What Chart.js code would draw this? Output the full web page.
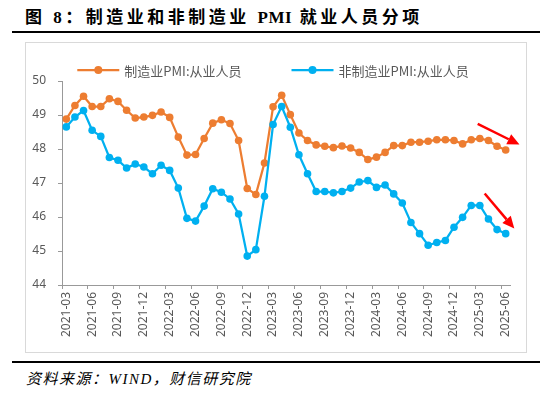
<!DOCTYPE html>
<html lang="zh-CN">
<head>
<meta charset="utf-8">
<title>图 8：制造业和非制造业 PMI 就业人员分项</title>
<script src="https://cdn.jsdelivr.net/npm/chart.js@4.4.1/dist/chart.umd.min.js"></script>
<style>
    html, body { margin: 0; padding: 0; background: #fff; }
    body { width: 550px; height: 394px; position: relative; overflow: hidden; }
    .title {
        position: absolute; left: 25px; top: 6px;
        font: bold 17px "Liberation Serif", "Noto Sans CJK SC", serif;
        letter-spacing: 3.5px; line-height: 24px; color: #000; white-space: nowrap;
    }
    .title .latin { letter-spacing: 0.5px; }
    .rule { position: absolute; left: 12px; width: 528px; height: 2px; background: #000; }
    .box {
        position: absolute; left: 25px; top: 42px;
        width: 500px; height: 309px; border: 1px solid #d9d9d9;
    }
    .source {
        position: absolute; left: 26px; top: 369px;
        font: italic 15px "Liberation Serif", "Noto Sans CJK SC", serif;
        letter-spacing: 1.5px; line-height: 20px; color: #000; white-space: nowrap;
    }
</style>
</head>
<body>
<div class="title">图 8：制造业和非制造业 <span class="latin">PMI</span> 就业人员分项</div>
<div class="rule" style="top:31px"></div>
<div class="box"><canvas id="pmiChart"></canvas></div>
<div class="rule" style="top:361px"></div>
<div class="source">资料来源：WIND，财信研究院</div>

<script>
// Months, 2021-03 .. 2025-06
const months = [
    '2021-03', '2021-04', '2021-05', '2021-06', '2021-07', '2021-08', '2021-09', '2021-10', '2021-11', '2021-12',
    '2022-01', '2022-02', '2022-03', '2022-04', '2022-05', '2022-06', '2022-07', '2022-08', '2022-09', '2022-10',
    '2022-11', '2022-12', '2023-01', '2023-02', '2023-03', '2023-04', '2023-05', '2023-06', '2023-07', '2023-08',
    '2023-09', '2023-10', '2023-11', '2023-12', '2024-01', '2024-02', '2024-03', '2024-04', '2024-05', '2024-06',
    '2024-07', '2024-08', '2024-09', '2024-10', '2024-11', '2024-12', '2025-01', '2025-02', '2025-03', '2025-04',
    '2025-05', '2025-06'
];

// 制造业PMI:从业人员
const mfgEmployment = [
    48.88, 49.28, 49.55, 49.25, 49.25, 49.48, 49.40, 49.14, 48.91, 48.94,
    48.99, 49.09, 48.93, 48.35, 47.82, 47.84, 48.31, 48.76, 48.86, 48.75,
    48.25, 46.84, 46.66, 47.59, 49.24, 49.58, 49.01, 48.47, 48.25, 48.12,
    48.08, 48.04, 48.09, 48.03, 47.90, 47.69, 47.76, 47.90, 48.10, 48.10,
    48.20, 48.20, 48.23, 48.27, 48.27, 48.25, 48.15, 48.27, 48.31, 48.25,
    48.08, 47.97
];

// 非制造业PMI:从业人员
const nonMfgEmployment = [
    48.65, 48.94, 49.13, 48.55, 48.37, 47.75, 47.67, 47.44, 47.56, 47.47,
    47.27, 47.52, 47.37, 46.85, 45.96, 45.88, 46.32, 46.83, 46.73, 46.53,
    46.09, 44.85, 45.04, 46.61, 48.72, 49.25, 48.64, 47.83, 47.27, 46.75,
    46.75, 46.71, 46.75, 46.85, 47.03, 47.07, 46.87, 46.94, 46.68, 46.41,
    45.84, 45.51, 45.17, 45.25, 45.31, 45.70, 45.99, 46.34, 46.34, 45.94,
    45.63, 45.51
];

const yTicks = [44, 45, 46, 47, 48, 49, 50];

// red trend arrows, in data units [month index, value]
const trendArrows = [
    { from: [47.75, 48.74], to: [52.6, 48.13] },
    { from: [48.56, 46.69], to: [52.0, 45.66] }
];

const AXIS_GRAY = '#999999';
const TEXT_GRAY = '#595959';

// legend drawn Excel style: short line with a marker in the middle
const lineLegend = {
    id: 'lineLegend',
    afterDraw(chart) {
        const ctx = chart.ctx;
        ctx.save();
        ctx.font = '13px "Noto Sans CJK SC", sans-serif';
        const items = chart.data.datasets.map(ds => ({
            label: ds.label,
            color: ds.borderColor,
            w: ctx.measureText(ds.label).width
        }));
        const lineLen = 42, gap = 5, itemGap = 50;
        const total = items.reduce((s, it) => s + lineLen + gap + it.w, 0) + itemGap * (items.length - 1);
        let x = chart.width / 2 - 3 - total / 2;
        const y = 27;
        items.forEach(it => {
            ctx.strokeStyle = it.color;
            ctx.lineWidth = 2.25;
            ctx.beginPath();
            ctx.moveTo(x, y);
            ctx.lineTo(x + lineLen, y);
            ctx.stroke();
            ctx.fillStyle = it.color;
            ctx.beginPath();
            ctx.arc(x + lineLen / 2, y, 4, 0, Math.PI * 2);
            ctx.fill();
            ctx.fillStyle = TEXT_GRAY;
            ctx.textAlign = 'left';
            ctx.textBaseline = 'middle';
            ctx.fillText(it.label, x + lineLen + gap, y + 1);
            x += lineLen + gap + it.w + itemGap;
        });
        ctx.restore();
    }
};

const arrowPlugin = {
    id: 'trendArrows',
    afterDraw(chart) {
        const ctx = chart.ctx;
        const xs = chart.scales.x, ys = chart.scales.y;
        ctx.save();
        ctx.strokeStyle = '#ff0000';
        ctx.fillStyle = '#ff0000';
        ctx.lineWidth = 2.5;
        trendArrows.forEach(a => {
            const x1 = xs.getPixelForValue(a.from[0]), y1 = ys.getPixelForValue(a.from[1]);
            const x2 = xs.getPixelForValue(a.to[0]), y2 = ys.getPixelForValue(a.to[1]);
            const ang = Math.atan2(y2 - y1, x2 - x1);
            const head = 12, half = 5.5;
            const bx = x2 - head * Math.cos(ang), by = y2 - head * Math.sin(ang);
            ctx.beginPath();
            ctx.moveTo(x1, y1);
            ctx.lineTo(bx, by);
            ctx.stroke();
            ctx.beginPath();
            ctx.moveTo(x2, y2);
            ctx.lineTo(bx + half * Math.sin(ang), by - half * Math.cos(ang));
            ctx.lineTo(bx - half * Math.sin(ang), by + half * Math.cos(ang));
            ctx.closePath();
            ctx.fill();
        });
        ctx.restore();
    }
};

Chart.defaults.font.family = '"Noto Sans", "Noto Sans CJK SC", sans-serif';
Chart.defaults.color = TEXT_GRAY;

new Chart(document.getElementById('pmiChart'), {
    type: 'line',
    data: {
        labels: months,
        datasets: [
            {
                label: '制造业PMI:从业人员',
                data: mfgEmployment,
                borderColor: '#ED7D31',
                backgroundColor: '#ED7D31',
                borderWidth: 2.25,
                pointRadius: 3.8,
                pointBorderWidth: 0,
                tension: 0,
                order: 2
            },
            {
                label: '非制造业PMI:从业人员',
                data: nonMfgEmployment,
                borderColor: '#00B0F0',
                backgroundColor: '#00B0F0',
                borderWidth: 2.25,
                pointRadius: 3.8,
                pointBorderWidth: 0,
                tension: 0,
                order: 1
            }
        ]
    },
    options: {
        responsive: true,
        maintainAspectRatio: false,
        animation: false,
        layout: { padding: { top: 38, right: 16, bottom: 0, left: 0 } },
        plugins: {
            legend: { display: false },
            tooltip: { enabled: false }
        },
        scales: {
            x: {
                type: 'category',
                offset: true,
                afterFit: scale => { scale.height = 67; },
                grid: {
                    offset: true,
                    drawOnChartArea: false,
                    tickLength: 4,
                    color: ctx => (ctx.index % 3 === 0 ? AXIS_GRAY : 'rgba(0,0,0,0)')
                },
                border: { display: true, color: AXIS_GRAY, width: 1 },
                ticks: {
                    autoSkip: false,
                    minRotation: 90,
                    maxRotation: 90,
                    padding: 3,
                    color: TEXT_GRAY,
                    font: { size: 12 },
                    callback: function (val, idx) {
                        return idx % 3 === 0 ? this.getLabelForValue(val) : '';
                    }
                }
            },
            y: {
                min: yTicks[0],
                max: yTicks[yTicks.length - 1],
                afterFit: scale => { scale.width = 36; },
                afterBuildTicks: scale => { scale.ticks = yTicks.map(v => ({ value: v })); },
                grid: { drawOnChartArea: false, tickLength: 4, color: AXIS_GRAY },
                border: { display: true, color: AXIS_GRAY, width: 1 },
                ticks: { padding: 12, color: TEXT_GRAY, font: { size: 12 } }
            }
        }
    },
    plugins: [lineLegend, arrowPlugin]
});
</script>
</body>
</html>
